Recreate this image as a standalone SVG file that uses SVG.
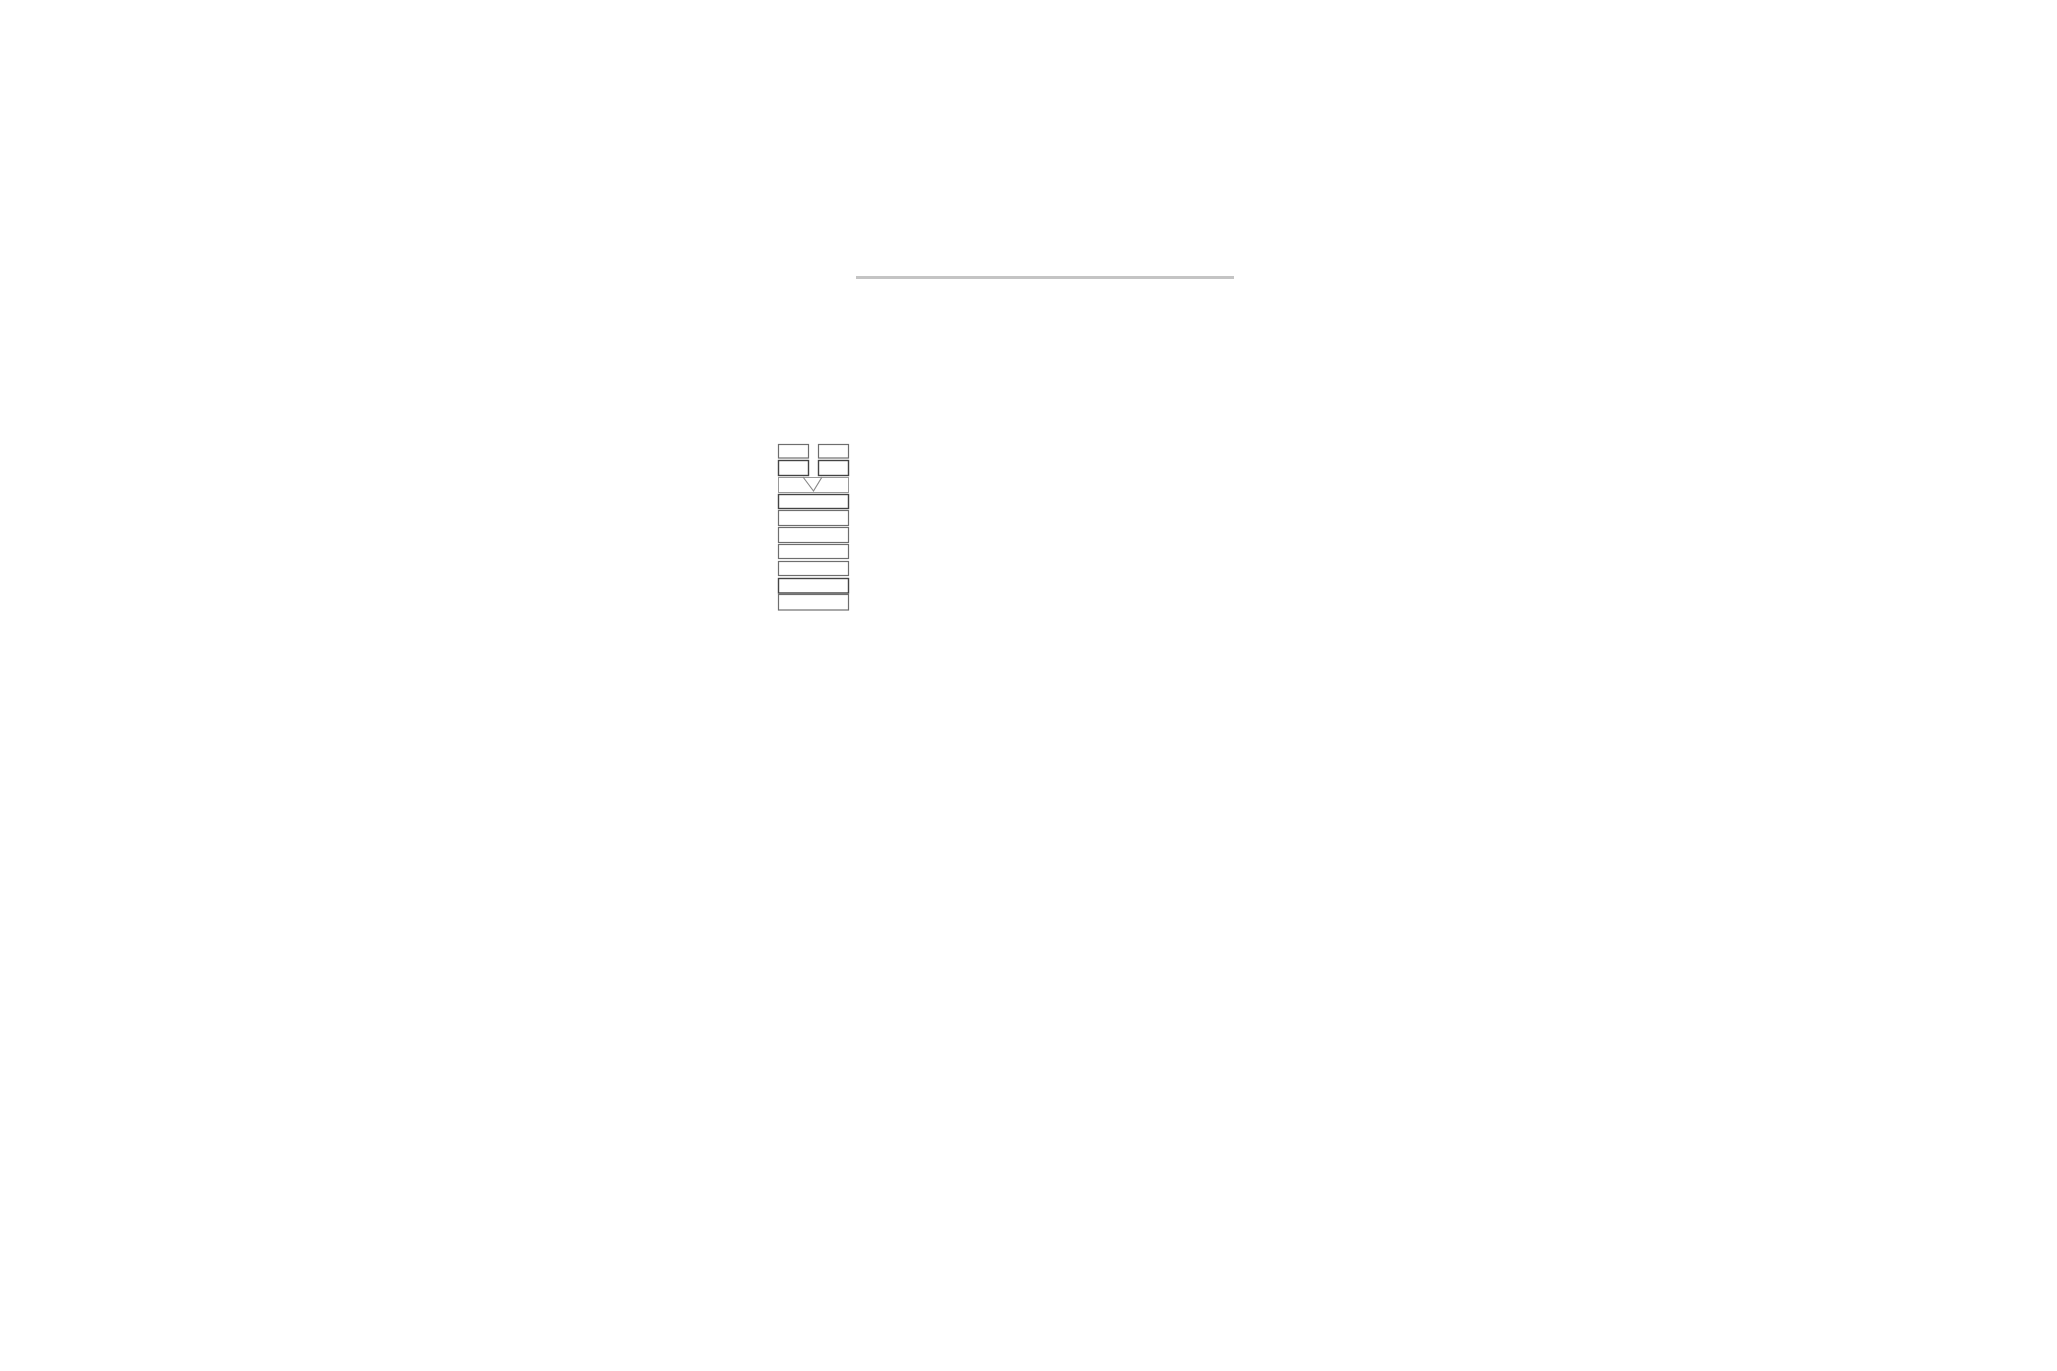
<svg xmlns="http://www.w3.org/2000/svg" width="2057" height="1371" viewBox="0 0 2057 1371">
<style>
.b{fill:#fff;stroke:#6e6e6e;stroke-width:1.2}
.d{fill:#fff;stroke:#444;stroke-width:1.4}
.l{fill:#fff;stroke:#9a9a9a;stroke-width:1}
.c{fill:none;stroke:#8a8a8a;stroke-width:1.2}
</style>
<rect width="2057" height="1371" fill="#fff"/>
<line x1="856" y1="277.5" x2="1234" y2="277.5" stroke="#c4c4c4" stroke-width="3"/>
<g id="n1"><rect class="b" x="778.5" y="444.5" width="30" height="13.5"/></g>
<g id="n2"><rect class="b" x="818.5" y="444.5" width="30" height="13.5"/></g>
<g id="n3"><rect class="d" x="778.5" y="460.5" width="30" height="15"/></g>
<g id="n4"><rect class="d" x="818.5" y="460.5" width="30" height="15"/></g>
<g id="n5"><rect class="l" x="778.5" y="477.5" width="70" height="15"/></g>
<g id="n6"><rect class="d" x="778.5" y="494.5" width="70" height="14"/></g>
<g id="n7"><rect class="b" x="778.5" y="510.5" width="70" height="15"/></g>
<g id="n8"><rect class="b" x="778.5" y="527.5" width="70" height="15"/></g>
<g id="n9"><rect class="b" x="778.5" y="544.5" width="70" height="14"/></g>
<g id="n10"><rect class="b" x="778.5" y="561.5" width="70" height="14"/></g>
<g id="n11"><rect class="d" x="778.5" y="578.5" width="70" height="14.5"/></g>
<g id="n12"><rect class="b" x="778.5" y="594.5" width="70" height="15.5"/></g>
<g id="connectors">
<polyline class="c" points="803,477 813.5,491 822,477"/>
</g>
</svg>
